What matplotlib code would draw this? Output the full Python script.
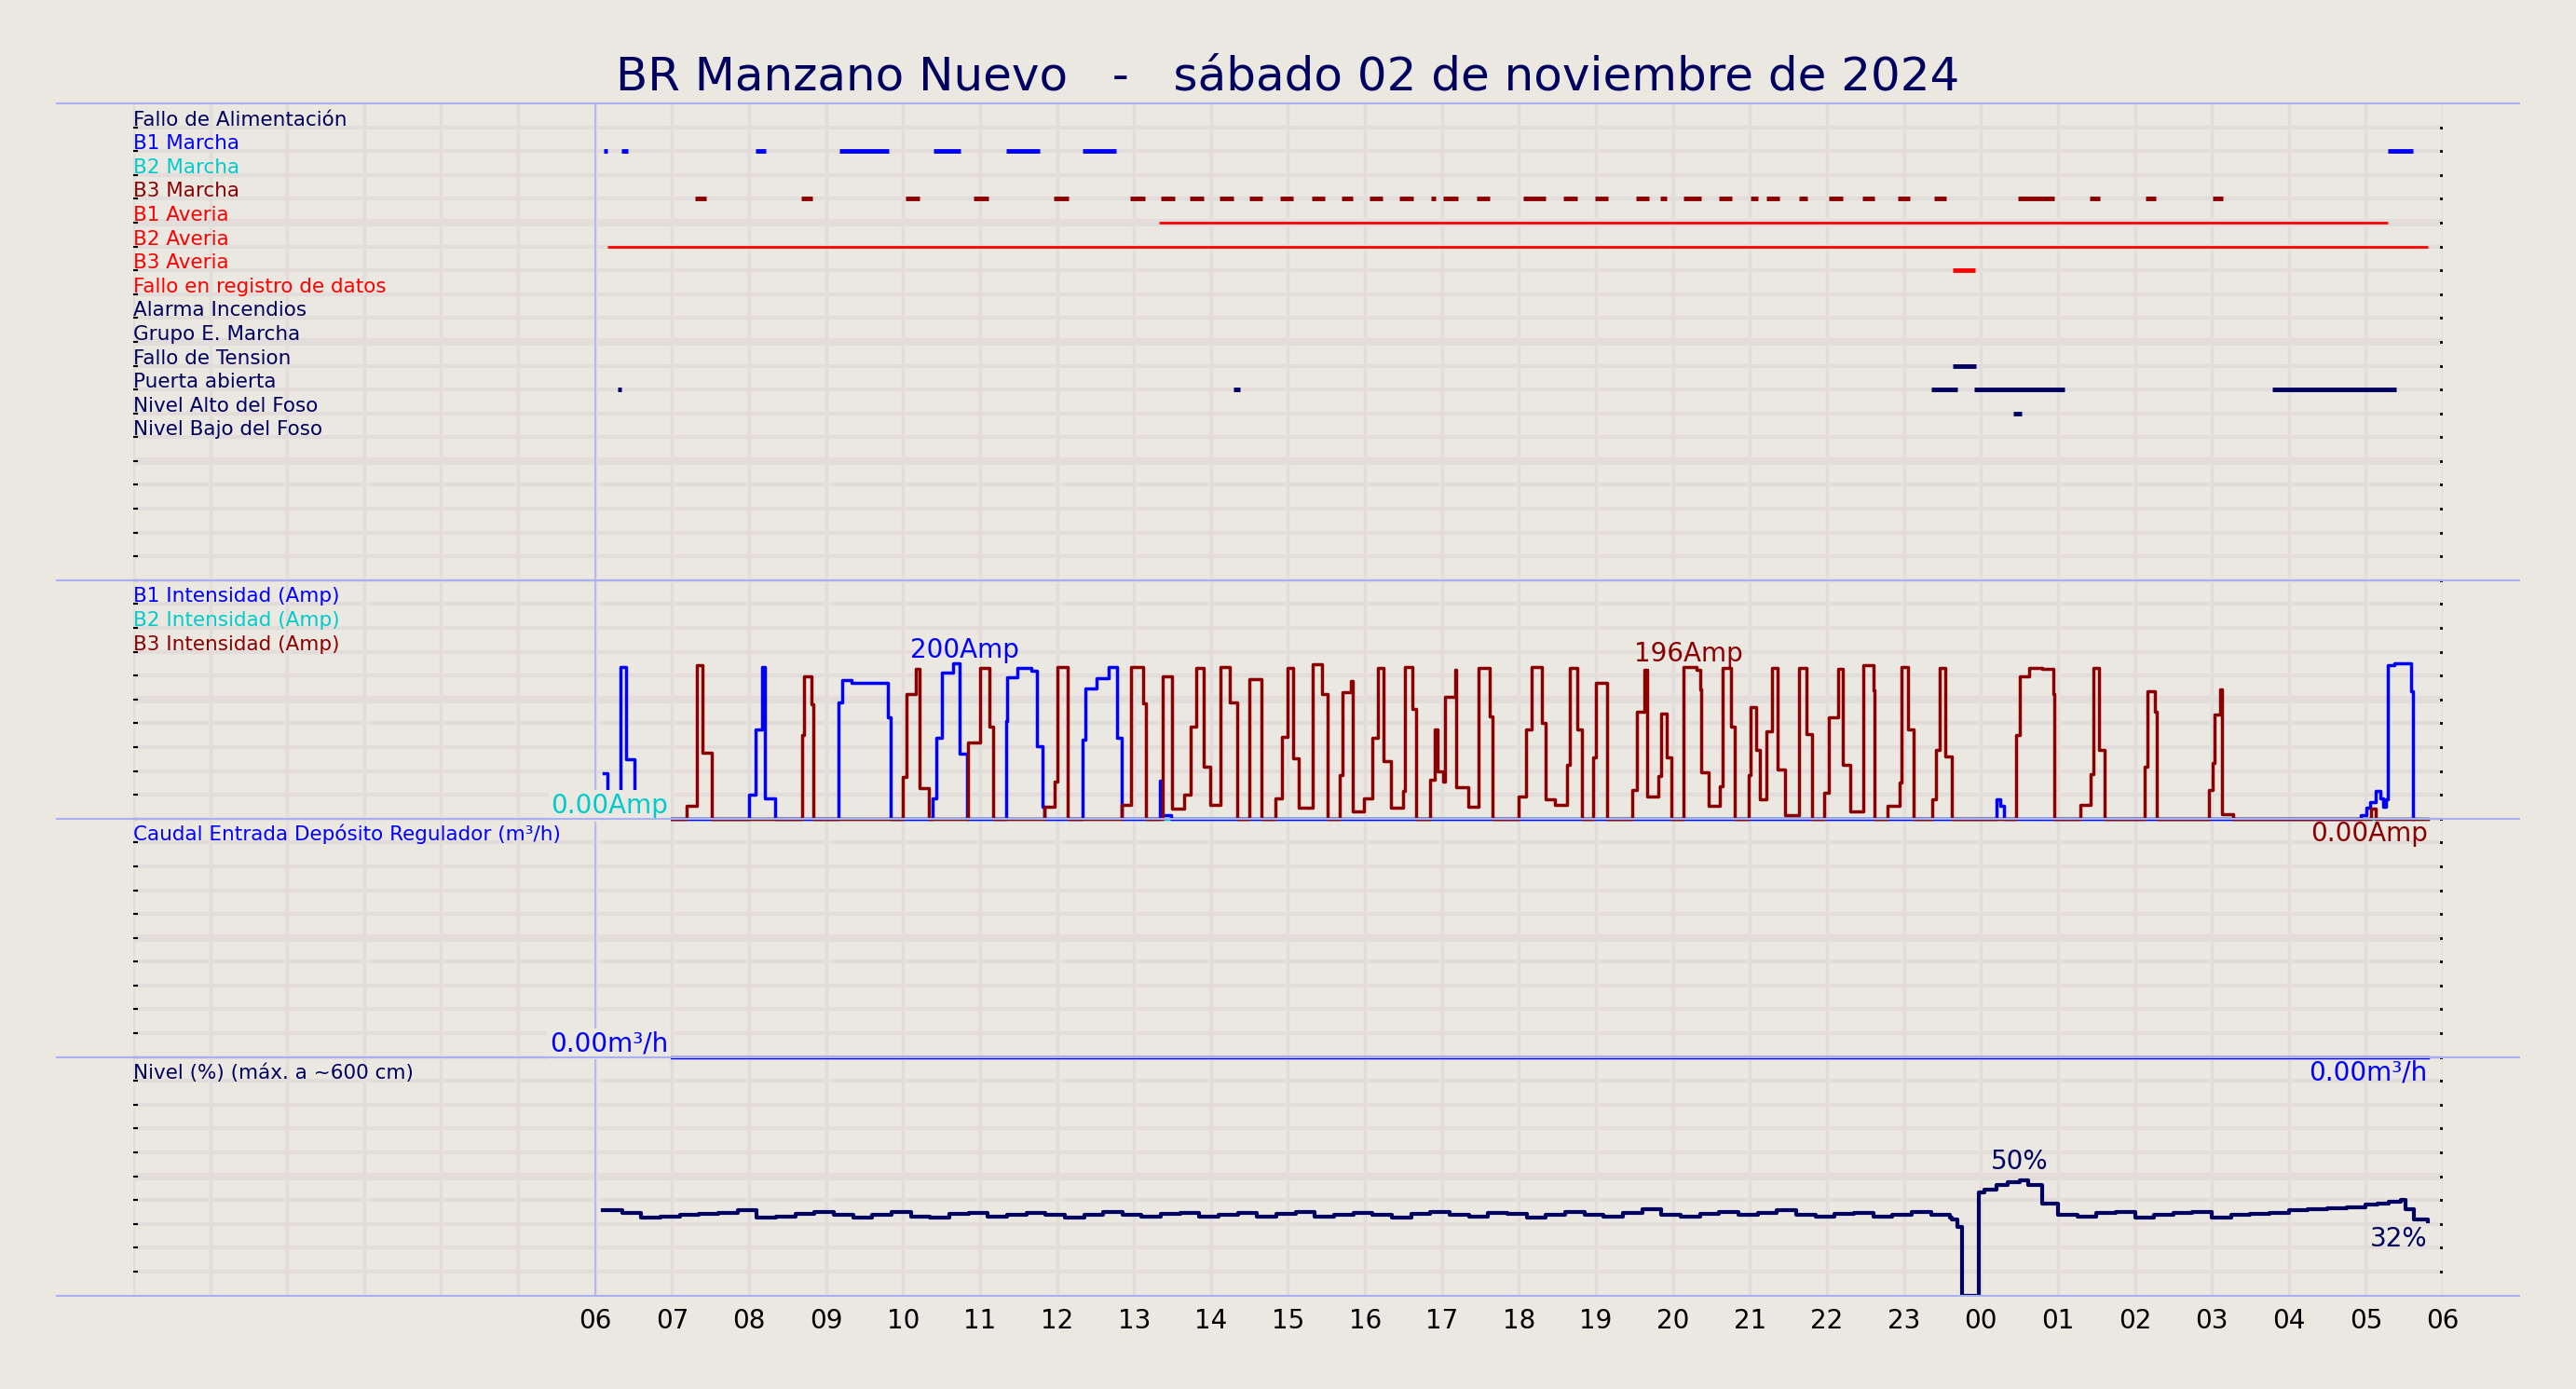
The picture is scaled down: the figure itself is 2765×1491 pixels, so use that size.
import numpy as np
import matplotlib.pyplot as plt
from matplotlib.lines import Line2D

BG = '#ebe7e1'
NAVY = '#000060'
BLUE = '#0000ff'
CYAN = '#00cccc'
DRED = '#8b0000'
RED = '#ff0000'

title = "BR Manzano Nuevo   -   sábado 02 de noviembre de 2024"

# digital signal rows (label, colour, list of (start_h, end_h))
row_labels = ["Fallo de Alimentación", "B1 Marcha", "B2 Marcha", "B3 Marcha", "B1 Averia",
              "B2 Averia", "B3 Averia", "Fallo en registro de datos", "Alarma Incendios",
              "Grupo E. Marcha", "Fallo de Tension", "Puerta abierta", "Nivel Alto del Foso",
              "Nivel Bajo del Foso"]
row_colors = [NAVY, BLUE, CYAN, DRED, RED, RED, RED, RED, NAVY, NAVY, NAVY, NAVY, NAVY, NAVY]
b1_marcha = [(6.11, 6.16), (6.34, 6.43), (8.09, 8.22), (9.17, 9.81), (10.40, 10.75),
             (11.34, 11.77), (12.33, 12.77), (29.28, 29.61)]
b3_marcha = [(7.30, 7.44), (8.68, 8.82), (10.03, 10.22), (10.92, 11.11), (11.96, 12.15),
             (12.95, 13.14), (13.35, 13.53), (13.72, 13.90), (14.11, 14.29), (14.50, 14.67),
             (14.90, 15.07), (15.31, 15.48), (15.69, 15.84), (16.06, 16.23), (16.45, 16.63),
             (16.86, 16.92), (17.01, 17.21), (17.45, 17.62), (18.05, 18.35), (18.58, 18.76),
             (18.99, 19.16), (19.52, 19.69), (19.83, 19.92), (20.14, 20.37), (20.60, 20.77),
             (21.01, 21.10), (21.21, 21.38), (21.64, 21.75), (22.02, 22.21), (22.46, 22.62),
             (22.92, 23.08), (23.39, 23.55), (24.48, 24.95), (25.41, 25.55), (26.14, 26.27),
             (27.01, 27.14)]
b1_averia = [(13.32, 29.28)]
b2_averia = [(6.16, 29.80)]
b3_averia = [(23.64, 23.92)]
fallo_tension = [(23.64, 23.94)]
puerta = [(6.29, 6.34), (14.29, 14.38), (23.36, 23.69), (23.91, 25.09), (27.78, 29.40)]
nivel_alto = [(24.42, 24.53)]
row_segments = {1: b1_marcha, 3: b3_marcha, 4: b1_averia, 5: b2_averia, 6: b3_averia,
                10: fallo_tension, 11: puerta, 12: nivel_alto}

# B1 intensity (hour, amp), steps
b1_t = [6.115, 6.165, 6.335, 6.405, 6.505, 8.005, 8.085, 8.165, 8.205, 8.335,
        9.165, 9.205, 9.335, 9.785, 9.805, 9.835, 10.385, 10.435, 10.505, 10.655, 10.735, 10.835,
        11.335, 11.355, 11.485, 11.665, 11.735, 11.815, 11.835,
        12.335, 12.365, 12.515, 12.665, 12.785, 12.835, 13.335, 13.365, 13.485,
        24.20, 24.25, 24.30,
        28.94, 29.01, 29.06, 29.13, 29.19, 29.23, 29.26, 29.29, 29.37, 29.45, 29.59, 29.61]
b1_a = [60, 0, 200, 78, 0, 31, 117, 200, 27, 0,
        153, 182, 179, 179, 133, 0, 27, 106, 192, 205, 86, 0,
        129, 186, 198, 195, 96, 16, 0,
        104, 172, 185, 200, 106, 0, 50, 4, 0,
        25, 17, 0,
        4, 14, 22, 37, 27, 16, 25, 202, 204, 205, 168, 0]

# B3 intensity (hour, amp), steps
b3_t = [7.0, 7.19, 7.32, 7.39, 7.52, 8.69, 8.71, 8.81, 8.84,
        10.00, 10.04, 10.17, 10.21, 10.34, 10.84, 11.00, 11.12, 11.17,
        11.84, 11.97, 12.01, 12.14, 12.84, 12.96, 13.12, 13.16,
        13.37, 13.49, 13.65, 13.73, 13.81, 13.90, 13.99, 14.12, 14.24, 14.34, 14.50, 14.65,
        14.84, 14.92, 14.99, 15.07, 15.14, 15.32, 15.44, 15.52,
        15.67, 15.71, 15.82, 15.84, 15.99,
        16.06, 16.09, 16.17, 16.24, 16.34, 16.49, 16.52, 16.62, 16.66,
        16.84, 16.90, 16.94, 17.02, 17.04, 17.17, 17.19, 17.34, 17.47, 17.62, 17.66,
        17.99, 18.09, 18.16, 18.30, 18.34, 18.47, 18.62, 18.66, 18.76, 18.82,
        18.96, 19.00, 19.14,
        19.47, 19.53, 19.63, 19.66, 19.81, 19.85, 19.92, 19.98,
        20.14, 20.31, 20.36, 20.37, 20.46, 20.61, 20.64, 20.75, 20.80,
        20.98, 21.01, 21.08, 21.13, 21.22, 21.29, 21.36, 21.46, 21.64, 21.73, 21.81,
        21.97, 22.03, 22.14, 22.21, 22.30, 22.47, 22.60, 22.62,
        22.79, 22.94, 22.97, 23.05, 23.13, 23.37, 23.42, 23.46, 23.54, 23.62,
        24.46, 24.50, 24.63, 24.80, 24.94, 24.95, 25.29, 25.43, 25.46, 25.53, 25.61,
        26.13, 26.16, 26.26, 26.29, 26.96, 27.01, 27.03, 27.11, 27.13, 27.28,
        29.07, 29.13, 29.80]
b3_a = [0, 17, 202, 87, 0, 110, 188, 151, 0,
        55, 164, 197, 40, 0, 100, 199, 121, 0,
        16, 49, 200, 0, 18, 200, 152, 0,
        188, 13, 31, 121, 198, 69, 18, 200, 153, 0, 184, 0,
        27, 108, 199, 80, 14, 203, 164, 0,
        57, 166, 181, 10, 27,
        27, 106, 199, 76, 14, 37, 200, 145, 0,
        51, 118, 62, 49, 160, 196, 42, 16, 199, 135, 0,
        29, 117, 200, 126, 25, 18, 71, 199, 117, 0,
        81, 179, 0,
        38, 141, 196, 29, 56, 138, 81, 0,
        200, 196, 170, 61, 17, 43, 198, 121, 0,
        57, 147, 91, 26, 115, 198, 65, 4, 198, 111, 0,
        34, 134, 197, 71, 9, 202, 169, 0,
        17, 47, 200, 117, 0, 25, 91, 199, 82, 0,
        110, 188, 199, 197, 164, 0, 18, 58, 199, 90, 0,
        69, 168, 141, 0, 38, 73, 137, 170, 6, 0,
        13, 0, 0]

# level (%) every 15 min from 06:06 to 23:36
lvl_day = [37, 36, 34, 34.5, 35, 35.5, 36, 37, 34, 34.5, 35.5, 36.5, 35, 34, 35, 36.5,
           34.5, 34, 35.5, 36, 34.5, 35, 36, 35, 34, 35, 36.5, 35, 34.5, 35.5, 36, 34.5,
           35, 36, 34.5, 35.5, 36.5, 34.5, 35, 36, 35, 34, 35.5, 36.5, 35, 34.5, 36, 35.5,
           34, 35, 36.5, 35, 34.5, 36, 37.5, 35, 34.5, 35.5, 36.5, 35, 36, 37, 35, 34.5,
           35.5, 36, 34.5, 35, 36.5, 35, 34]
# level (%) after 23:36, explicit times
lvl_night_t = [23.62, 23.70, 23.75, 23.97, 24.05, 24.20, 24.35, 24.50, 24.62, 24.80,
               25.00, 25.25, 25.50, 25.75, 26.00, 26.25, 26.50, 26.75, 27.00, 27.25,
               27.50, 27.75, 28.00, 28.25, 28.50, 28.75, 29.00, 29.15, 29.30, 29.45,
               29.52, 29.62, 29.80]
lvl_night = [33, 30, 0, 45, 46, 48, 49.5, 50, 48, 40,
             35, 34.5, 36, 36.5, 34, 35, 36, 36.5, 34, 35,
             35.5, 36, 37, 37.5, 38, 38.5, 39.5, 40, 41, 41.5,
             37.5, 33, 32.5]
lvl_t = list(6.1 + 0.25 * np.arange(len(lvl_day))) + lvl_night_t
lvl = lvl_day + lvl_night

fig = plt.figure(figsize=(27.65, 14.91), dpi=100, facecolor=BG)
ax = fig.add_axes([0.0517, 0.0674, 0.8966, 0.8581], facecolor=BG)
ax.set_xlim(0, 30)
ax.set_ylim(0, 5)

# grid
for y in np.arange(0.1, 5.0, 0.1):
    thick = any(abs(y - v) < 1e-6 for v in [0.5, 1.5, 2.5, 3.5, 4.0, 4.5])
    ax.axhline(y, color='#e2dcda', lw=6 if thick else 3, zorder=0)
for x in range(0, 31):
    ax.axvline(x, color='#e2dcda', lw=2.5, zorder=0)
ax.axvline(6, color='#b0b4f0', lw=1.2, zorder=1)
for y in [0, 1, 2, 3, 5]:
    fig.add_artist(Line2D([0.022, 0.978], [0.0674 + 0.8581 * y / 5] * 2, color='#aab0f4', lw=1.5))

for s in ax.spines.values():
    s.set_visible(False)
ax.set_xticks(range(6, 31))
ax.set_xticklabels(["%02d" % (h % 24) for h in range(6, 31)], fontsize=20)
ax.tick_params(axis='x', length=0, pad=10)
ax.set_yticks([])
for y in np.arange(0.1, 5.0, 0.1):
    ax.plot([29.97, 30.0], [y, y], color='black', lw=2, zorder=3)
for y in np.arange(0.1, 5.0, 0.1):
    ax.plot([0.0, 0.05], [y, y], color='black', lw=1.5, zorder=3)

# digital rows
for i, (lab, col) in enumerate(zip(row_labels, row_colors)):
    y = 5 - (i + 1) * 0.1
    ax.text(0.0, y - 0.008, lab, color=col, fontsize=15.5, va='bottom', ha='left')
    for a, b in row_segments.get(i, []):
        ax.plot([a, b], [y, y], color=col, lw=2.0 if i in (4, 5) else 3.5,
                solid_capstyle='butt', zorder=4)

# intensity panel
amp_scale = 314.0
ax.plot([7.0, 29.8], [2, 2], color=CYAN, lw=2.5, zorder=3)
ax.step(b1_t, 2 + np.array(b1_a) / amp_scale, where='post', color=BLUE, lw=2.5, zorder=4)
ax.step(b3_t, 2 + np.array(b3_a) / amp_scale, where='post', color=DRED, lw=2.5, zorder=5)
ax.text(0.0, 2.9 - 0.008, "B1 Intensidad (Amp)", color=BLUE, fontsize=15.5, va='bottom')
ax.text(0.0, 2.8 - 0.008, "B2 Intensidad (Amp)", color=CYAN, fontsize=15.5, va='bottom')
ax.text(0.0, 2.7 - 0.008, "B3 Intensidad (Amp)", color=DRED, fontsize=15.5, va='bottom')
ax.text(6.95, 2.0, "0.00Amp", color=CYAN, fontsize=20, ha='right', va='bottom', zorder=6,
        bbox=dict(facecolor=BG, edgecolor='none', pad=2))
ax.text(10.8, 2 + 205 / amp_scale, "200Amp", color=BLUE, fontsize=20, ha='center', va='bottom', zorder=6)
ax.text(20.2, 2 + 200 / amp_scale, "196Amp", color=DRED, fontsize=20, ha='center', va='bottom', zorder=6)
ax.text(29.8, 1.99, "0.00Amp", color=DRED, fontsize=20, ha='right', va='top', zorder=6)

# caudal panel
ax.plot([7.0, 29.8], [1.0, 1.0], color=BLUE, lw=2.5, zorder=4)
ax.text(0.0, 1.9 - 0.008, "Caudal Entrada Depósito Regulador (m³/h)", color=BLUE, fontsize=15.5, va='bottom')
ax.text(6.95, 1.0, "0.00m³/h", color=BLUE, fontsize=20, ha='right', va='bottom', zorder=6,
        bbox=dict(facecolor=BG, edgecolor='none', pad=2))
ax.text(29.8, 0.99, "0.00m³/h", color=BLUE, fontsize=20, ha='right', va='top', zorder=6)

# level panel
ax.step(lvl_t, np.array(lvl) / 104.0, where='post', color=NAVY, lw=3, zorder=4)
ax.text(0.0, 0.9 - 0.008, "Nivel (%) (máx. a ~600 cm)", color=NAVY, fontsize=15.5, va='bottom')
ax.text(24.5, 0.505, "50%", color=NAVY, fontsize=20, ha='center', va='bottom', zorder=6)
ax.text(29.8, 0.29, "32%", color=NAVY, fontsize=20, ha='right', va='top', zorder=6)

fig.text(0.5, 0.945, title, color=NAVY, fontsize=36, ha='center', va='center')

fig.savefig("out.png", dpi=100, facecolor=BG)
